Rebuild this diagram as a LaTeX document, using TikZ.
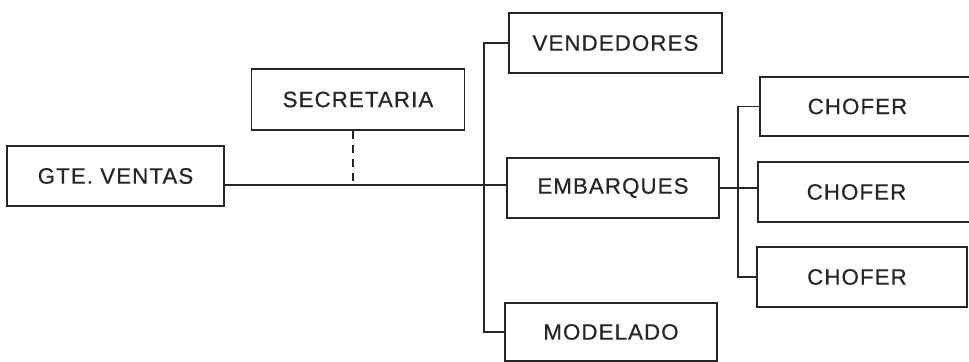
\documentclass[tikz,border=0pt]{standalone}
\usepackage{fontspec}
\setmainfont{Liberation Sans}[LetterSpace=5,FakeBold=0.6]
\begin{document}
\begin{tikzpicture}[x=0.03cm,y=-0.03cm,
  box/.style={draw=black!85,line width=1.3pt,rectangle,inner sep=0pt,
    text=black!85,font=\fontsize{19}{22}\selectfont},
  conn/.style={draw=black!85,line width=1.1pt},
  dashconn/.style={conn,dash pattern=on 7pt off 5pt}]
\useasboundingbox (0,0) rectangle (969,362);
\clip (0,0) rectangle (969,362);
\fill[white!96!blue!2] (0,0) rectangle (969,362);
\node[box,minimum width=217*0.03cm,minimum height=60*0.03cm] (gte) at (115.5,176) {GTE. VENTAS};
\node[box,minimum width=213*0.03cm,minimum height=61*0.03cm] (sec) at (358,99.5) {SECRETARIA};
\node[box,minimum width=213*0.03cm,minimum height=60*0.03cm] (ven) at (615.5,43) {VENDEDORES};
\node[box,minimum width=212*0.03cm,minimum height=60*0.03cm] (emb) at (613,188) {EMBARQUES};
\node[box,minimum width=212*0.03cm,minimum height=58*0.03cm] (mod) at (611,332) {MODELADO};
\node[box,minimum width=215*0.03cm,minimum height=59*0.03cm] (ch1) at (867.5,106.5) {\hspace*{-0.6cm}CHOFER};
\node[box,minimum width=217*0.03cm,minimum height=60*0.03cm] (ch2) at (866.5,192) {\hspace*{-0.6cm}CHOFER};
\node[box,minimum width=210*0.03cm,minimum height=60*0.03cm] (ch3) at (862,277) {\hspace*{-0.3cm}CHOFER};
\coordinate (tA) at (484,0);
\coordinate (tB) at (738,0);
\draw[conn] (gte.east |- 0,185) -- (emb.west |- 0,185);
\draw[dashconn] (sec.south -| 353,0) -- (353,185);
\draw[conn] (ven.west) -| (tA |- mod.west) -- (mod.west);
\draw[conn] (emb.east) -- (emb.east -| ch2.west);
\draw[conn] (ch1.west) -| (tB |- ch3.west) -- (ch3.west);
\end{tikzpicture}
\end{document}
